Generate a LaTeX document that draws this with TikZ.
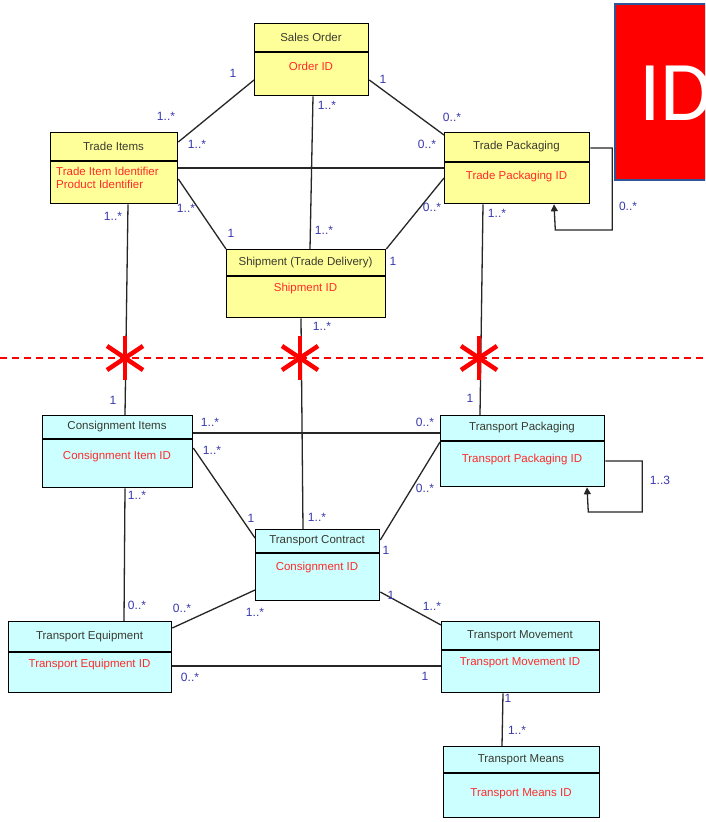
\documentclass[tikz,border=0pt]{standalone}
\usepackage{fontspec}
\setmainfont{Liberation Sans}
\newfontfamily\idfont{Carlito}
\usetikzlibrary{arrows.meta,calc}

\definecolor{boxyellow}{HTML}{FFFF99}
\definecolor{boxcyan}{HTML}{CCFFFF}
\definecolor{multcol}{HTML}{3838B0}
\definecolor{titlecol}{HTML}{3A3A30}
\definecolor{idcol}{HTML}{FF2A2A}
\definecolor{idframe}{HTML}{2F5597}

\tikzset{
  entity/.style={draw=black, line width=1.3pt, anchor=north west, inner sep=0pt},
  title/.style={font=\fontsize{11.5}{13}\selectfont, text=titlecol, inner sep=0pt},
  keyattr/.style={font=\fontsize{11.5}{13}\selectfont, text=idcol, align=left, inner sep=0pt},
  link/.style={draw=black!85, line width=1.3pt},
  mult/.style={font=\fontsize{12}{13}\selectfont, text=multcol, inner sep=0pt},
  cutline/.style={draw=red, line width=1.6pt, dash pattern=on 7pt off 5pt},
  cutmark/.style={draw=red, line width=4.5pt},
  selfloop/.style={link, -{Triangle[width=7pt,length=7pt]}},
}

% entity box: name, x1, y1, x2, y2, divider y, key text y, title, key text
\newcommand\entitybox[9]{%
  \node[entity, minimum width={(#4-#2)*1pt}, minimum height={(#5-#3)*1pt}] (#1) at (#2,#3) {};
  \draw[line width=1.3pt] (#2,#6) -- (#4,#6);
  \node[title] (#1-t) at ({(#2+#4)/2},{(#3+#6)/2}) {#8};
  \node[keyattr] (#1-k) at ({(#2+#4)/2},#7) {#9};
}

% cut mark on a relation crossing the boundary line
\newcommand\cutstar[1]{%
  \draw[cutmark] ($(#1)+(0,-22)$) -- ($(#1)+(0,22)$);
  \draw[cutmark] ($(#1)+(-18,-12)$) -- ($(#1)+(18,12)$);
  \draw[cutmark] ($(#1)+(-18,12)$) -- ($(#1)+(18,-12)$);
}

\begin{document}
\begin{tikzpicture}[x=1pt,y=-1pt]
\clip (0,0) rectangle (705,822);
\fill[white] (0,0) rectangle (705,822);

% ID banner
\draw[idframe, fill=red, line width=2pt] (615,4) rectangle (730,180);
\node[anchor=base west, inner sep=0pt, text=white, font=\idfont\fontsize{85}{90}\selectfont] (idtag) at (639,120) {ID};

% ---------- entities ----------
\tikzset{entity/.append style={fill=boxyellow}}
\entitybox{so}{254}{23}{368}{95}{52}{66}{Sales Order}{Order ID}
\entitybox{ti}{50}{132}{177}{203}{161}{177.5}{Trade Items}{}
\node[keyattr, anchor=west] (ti-keys) at (56,177.5) {Trade Item Identifier\\Product Identifier};
\entitybox{tp}{444}{132}{589}{203}{162}{177}{Trade Packaging}{Trade Packaging ID}
\entitybox{sh}{226}{249}{385}{317}{276}{289}{Shipment (Trade Delivery)}{Shipment ID}
\tikzset{entity/.append style={fill=boxcyan}}
\entitybox{ci}{42}{415}{192}{487}{439}{457}{Consignment Items}{Consignment Item ID}
\entitybox{tk}{440}{415}{604}{486}{441}{460}{Transport Packaging}{Transport Packaging ID}
\entitybox{tc}{255}{529}{379}{600}{553}{568}{Transport Contract}{Consignment ID}
\entitybox{te}{8}{621}{171}{692}{652}{665}{Transport Equipment}{Transport Equipment ID}
\entitybox{tm}{441}{621}{599}{692}{650}{663}{Transport Movement}{Transport Movement ID}
\entitybox{tn}{443}{746}{599}{817}{773}{794}{Transport Means}{Transport Means ID}

% ---------- trade level relations ----------
\draw[link] (so.west |- 0,80) -- (ti.east |- 0,142);
\draw[link] (so.east |- 0,80) -- (tp.west |- 0,135);
\draw[link] (313,0 |- so.south) -- (310,0 |- sh.north);
\draw[link] (ti.east |- 0,168) -- (tp.west |- 0,168);
\draw[link] (ti.east |- 0,179) -- (sh.north west);
\draw[link] (tp.west |- 0,178) -- (sh.north east);
\draw[selfloop] (tp.east |- 0,148) -- ++(22,0) -- ++(0,82) -- ++(-57,0) -- (554,0 |- tp.south);

% ---------- relations crossing the boundary ----------
\draw[link] (128,0 |- ti.south) -- (125,0 |- ci.north);
\draw[link] (301,0 |- sh.south) -- (303,0 |- tc.north);
\draw[link] (483,0 |- tp.south) -- (480,0 |- tk.north);

% ---------- transport level relations ----------
\draw[link] (ci.east |- 0,433) -- (tk.west |- 0,433);
\draw[link] (ci.east |- 0,448) -- (tc.west |- 0,538);
\draw[link] (tk.west |- 0,442) -- (tc.east |- 0,540);
\draw[link] (125,0 |- ci.south) -- (124,0 |- te.north);
\draw[link] (tc.west |- 0,590) -- (te.east |- 0,628);
\draw[link] (tc.east |- 0,592) -- (tm.west |- 0,625);
\draw[link] (te.east |- 0,666) -- (tm.west |- 0,666);
\draw[link] (503,0 |- tm.south) -- (502,0 |- tn.north);
\draw[selfloop] (tk.east |- 0,461) -- ++(37,0) -- ++(0,51) -- ++(-54,0) -- (587,0 |- tk.south);

% ---------- boundary line and cut marks ----------
\draw[cutline] (0,358) -- (705,358);
\coordinate (cut1) at (125,358);
\coordinate (cut2) at (300,358);
\coordinate (cut3) at (479,358);
\cutstar{cut1}
\cutstar{cut2}
\cutstar{cut3}

% ---------- multiplicities ----------
\node[mult] at (233,73) {1};
\node[mult] at (166,116) {1..*};
\node[mult] at (383,79) {1};
\node[mult] at (452,117) {0..*};
\node[mult] at (327,105) {1..*};
\node[mult] at (197,144) {1..*};
\node[mult] at (427,144) {0..*};
\node[mult] at (186,208) {1..*};
\node[mult] at (231,233) {1};
\node[mult] at (432,207) {0..*};
\node[mult] at (324,230) {1..*};
\node[mult] at (393,261) {1};
\node[mult] at (113,216) {1..*};
\node[mult] at (322,326) {1..*};
\node[mult] at (497,213) {1..*};
\node[mult] at (628,206) {0..*};
\node[mult] at (113,400) {1};
\node[mult] at (470,398) {1};
\node[mult] at (210,422) {1..*};
\node[mult] at (425,422) {0..*};
\node[mult] at (212,450) {1..*};
\node[mult] at (251,518) {1};
\node[mult] at (317,517) {1..*};
\node[mult] at (425,488) {0..*};
\node[mult] at (386,550) {1};
\node[mult] at (660,480) {1..3};
\node[mult] at (137,495) {1..*};
\node[mult] at (137,605) {0..*};
\node[mult] at (182,608) {0..*};
\node[mult] at (255,612) {1..*};
\node[mult] at (391,595) {1};
\node[mult] at (432,606) {1..*};
\node[mult] at (190,677) {0..*};
\node[mult] at (425,676) {1};
\node[mult] at (508,698) {1};
\node[mult] at (517,730) {1..*};

\end{tikzpicture}
\end{document}
